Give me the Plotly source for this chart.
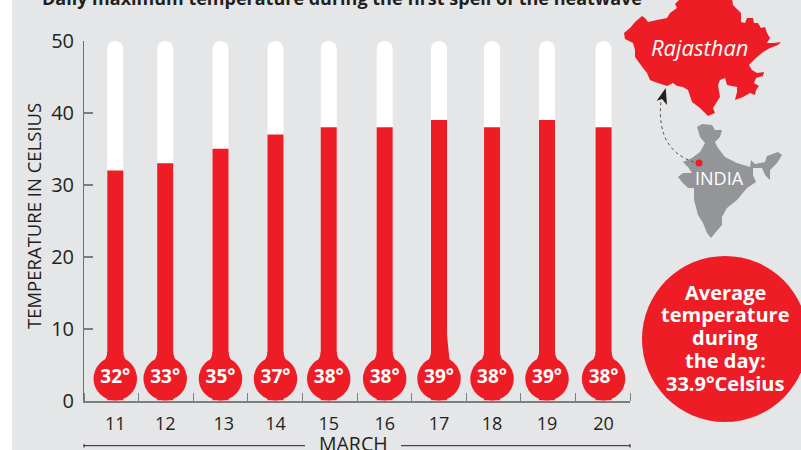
import plotly.graph_objects as go

# ---------- data ----------
days = ["11", "12", "13", "14", "15", "16", "17", "18", "19", "20"]
max_temps = [32, 33, 35, 37, 38, 38, 39, 38, 39, 38]
y_ticks = [0, 10, 20, 30, 40, 50]
scale_top = [50] * len(days)
title_text = "Daily maximum temperature during the first spell of the heatwave"
average_lines = ["Average", "temperature", "during", "the day:", "33.9°Celsius"]

# ---------- layout constants ----------
W, H = 801, 450
AX_L, AX_R, AX_T, AX_B = 84, 630, 41, 400.5
BAND = (AX_R - AX_L) / len(days)
RED, GREY_BG, DARK, AXIS = "#ee1c25", "#e5e6e8", "#231f20", "#7d7e81"
MAPGREY = "#939598"
FONT = "Open Sans"
# thermometers are hand-placed in the original, slightly off the band centres
centres = [0.573, 1.487, 2.5, 3.507, 4.482, 5.507, 6.502, 7.473, 8.48, 9.516]
label_pos = [0.573, 1.487, 2.56, 3.507, 4.482, 5.507, 6.502, 7.473, 8.48, 9.516]
BULB_Y = 3.03


def px(x):
    return x / W


def py(y):
    return 1 - y / H


def path(points, close=True):
    s = "M" + " L".join(f"{px(x):.5f},{py(y):.5f}" for x, y in points)
    return s + (" Z" if close else "")


# ---------- decoration outlines (pixel space) ----------
rajasthan = [(624, 33), (630, 28), (635, 22), (642, 16), (645, 18), (648, 22), (657, 20), (667, 18),
             (670, 13), (677, 8), (675, 4), (681, -2), (732, -2), (733, 5), (741, 13), (741, 22), (745, 23),
             (747, 18), (753, 18), (754, 23), (758, 23), (761, 28), (765, 27), (767, 33), (770, 38), (767, 43),
             (774, 43), (781, 42), (778, 45), (770, 48), (763, 52), (757, 57), (749, 65), (752, 70), (757, 73),
             (764, 72), (763, 76), (756, 78), (754, 83), (759, 86), (756, 90), (755, 95), (750, 93), (743, 97),
             (735, 100), (737, 92), (737, 87), (727, 85), (725, 78), (720, 80), (718, 85), (720, 97), (713, 108),
             (715, 113), (708, 116), (700, 108), (692, 102), (688, 90), (683, 87), (677, 86), (673, 83), (667, 86),
             (655, 82), (650, 80), (647, 73), (643, 68), (635, 57), (635, 50), (633, 43), (625, 39)]
india = [(697, 127), (702, 124), (712, 125), (715, 130), (722, 130), (720, 137), (715, 142), (718, 148),
         (725, 157), (737, 163), (750, 167), (751, 160), (755, 164), (765, 162), (767, 156), (778, 152),
         (782, 155), (777, 163), (770, 170), (770, 180), (765, 175), (762, 168), (753, 168), (753, 175),
         (756, 182), (747, 188), (737, 200), (727, 208), (722, 217), (722, 225), (715, 233), (711, 238),
         (707, 233), (703, 223), (698, 215), (694, 200), (694, 188), (688, 188), (682, 182), (678, 177),
         (683, 173), (692, 173), (688, 167), (683, 162), (692, 158), (700, 152), (705, 143), (700, 137), (698, 130)]
arrow_head = [(665.7, 88), (656.7, 100.7), (662, 99), (667, 105)]

shapes = [
    dict(type="rect", xref="paper", yref="paper", x0=0, x1=px(12), y0=0, y1=1,
         fillcolor="white", line_width=0, layer="below"),
    dict(type="path", xref="paper", yref="paper", path=path(rajasthan), fillcolor=RED, line_width=0),
    dict(type="path", xref="paper", yref="paper", path=path(india), fillcolor=MAPGREY, line_width=0),
    dict(type="path", xref="paper", yref="paper",
         path=f"M{px(694):.5f},{py(162):.5f} Q{px(656):.5f},{py(150):.5f} {px(661):.5f},{py(101):.5f}",
         line=dict(color="#4d4d4f", width=1, dash="dot")),
    dict(type="path", xref="paper", yref="paper", path=path(arrow_head), fillcolor=DARK, line_width=0),
    dict(type="circle", xref="paper", yref="paper", x0=px(695.5), x1=px(702.5), y0=py(166.5), y1=py(159.5),
         fillcolor=RED, line_width=0),
    dict(type="circle", xref="paper", yref="paper", x0=px(642), x1=px(808), y0=py(422), y1=py(256),
         fillcolor=RED, line_width=0),
]

# MARCH bracket
for seg in [(84, 305), (401, 630)]:
    shapes.append(dict(type="line", xref="paper", yref="paper", x0=px(seg[0]), x1=px(seg[1]),
                       y0=py(445.7), y1=py(445.7), line=dict(color=DARK, width=1)))
for xe in (84, 630):
    shapes.append(dict(type="line", xref="paper", yref="paper", x0=px(xe), x1=px(xe),
                       y0=py(444), y1=py(447.5), line=dict(color=DARK, width=1)))

# flared necks where the tube meets the bulb
for c in centres:
    cx = AX_L + c * BAND
    s = (f"M{px(cx-8):.5f},{py(352):.5f} Q{px(cx-8):.5f},{py(359):.5f} {px(cx-15):.5f},{py(364):.5f} "
         f"L{px(cx+15):.5f},{py(364):.5f} Q{px(cx+8):.5f},{py(359):.5f} {px(cx+8):.5f},{py(352):.5f} Z")
    shapes.append(dict(type="path", xref="paper", yref="paper", path=s, fillcolor=RED, line_width=0))
# small bulge on the 17 March tube
cx17 = AX_L + centres[6] * BAND
shapes.append(dict(type="path", xref="paper", yref="paper",
                   path=path([(cx17 + 7, 335), (cx17 + 8, 335), (cx17 + 10.5, 360), (cx17 + 7, 362)]),
                   fillcolor=RED, line_width=0))

fig = go.Figure()
fig.add_bar(x=centres, y=scale_top, width=16 / BAND, marker=dict(color="white", cornerradius=8, line_width=0),
            hoverinfo="skip", showlegend=False)
fig.add_bar(x=centres, y=max_temps, width=16 / BAND, marker=dict(color=RED, line_width=0),
            name="Max temperature", showlegend=False)
fig.add_scatter(x=centres, y=[BULB_Y] * len(days), mode="markers+text",
                marker=dict(size=43.5, color=RED, line_width=0),
                text=[f"{v}°" for v in max_temps], textposition="middle center",
                textfont=dict(family=FONT, size=19, color="white", weight="bold"),
                cliponaxis=False, showlegend=False, hoverinfo="skip")

annotations = [
    dict(text=title_text, xref="paper", yref="paper", x=px(342), y=py(-1.5), showarrow=False,
         xanchor="center", yanchor="middle", font=dict(family=FONT, size=18, color=DARK, weight="bold")),
    dict(text="TEMPERATURE IN CELSIUS", xref="paper", yref="paper", x=px(33.5), y=py(216.5), showarrow=False,
         textangle=-90, xanchor="center", yanchor="middle", font=dict(family=FONT, size=18.5, color=DARK)),
    dict(text="MARCH", xref="paper", yref="paper", x=px(353.5), y=py(443.5), showarrow=False,
         xanchor="center", yanchor="middle", font=dict(family=FONT, size=19.5, color=DARK)),
    dict(text="<i>Rajasthan</i>", xref="paper", yref="paper", x=px(700), y=py(47), showarrow=False,
         xanchor="center", yanchor="middle", font=dict(family=FONT, size=22, color="white")),
    dict(text="INDIA", xref="paper", yref="paper", x=px(719), y=py(178), showarrow=False,
         xanchor="center", yanchor="middle", font=dict(family=FONT, size=18, color="white")),
]
for i, line in enumerate(average_lines):
    annotations.append(dict(text=line, xref="paper", yref="paper", x=px(725), y=py(292 + 22.8 * i),
                            showarrow=False, xanchor="center", yanchor="middle",
                            font=dict(family=FONT, size=20, color="white", weight="bold")))

fig.update_layout(
    width=W, height=H, autosize=False,
    margin=dict(l=0, r=0, t=0, b=0),
    paper_bgcolor=GREY_BG, plot_bgcolor=GREY_BG,
    barmode="overlay", showlegend=False,
    font=dict(family=FONT, color=DARK),
    shapes=shapes, annotations=annotations,
    xaxis=dict(domain=[px(AX_L), px(AX_R)], range=[0, len(days)], tickmode="array", automargin=False,
               tickvals=label_pos, ticktext=days, ticks="", showgrid=False, zeroline=False,
               tickfont=dict(family=FONT, size=18, color=DARK), ticklabelstandoff=6,
               showline=True, linecolor=AXIS, linewidth=1.5,
               minor=dict(tickmode="array", tickvals=list(range(len(days) + 1)), ticks="inside",
                          ticklen=8, tickcolor=AXIS, tickwidth=1.2, showgrid=False)),
    yaxis=dict(domain=[py(AX_B), py(AX_T)], range=[0, 50], tickmode="array", tickvals=y_ticks, automargin=False,
               ticks="inside", ticklen=9, tickcolor=AXIS, tickwidth=1.5, showgrid=False, zeroline=False,
               tickfont=dict(family=FONT, size=20, color=DARK), ticklabelstandoff=5,
               showline=True, linecolor="#6d6e71", linewidth=1),
)

fig.write_html("out.html", config={"displayModeBar": False},
               post_script="document.body.style.margin='0';document.body.style.overflow='hidden';window.dispatchEvent(new Event('resize'));")
